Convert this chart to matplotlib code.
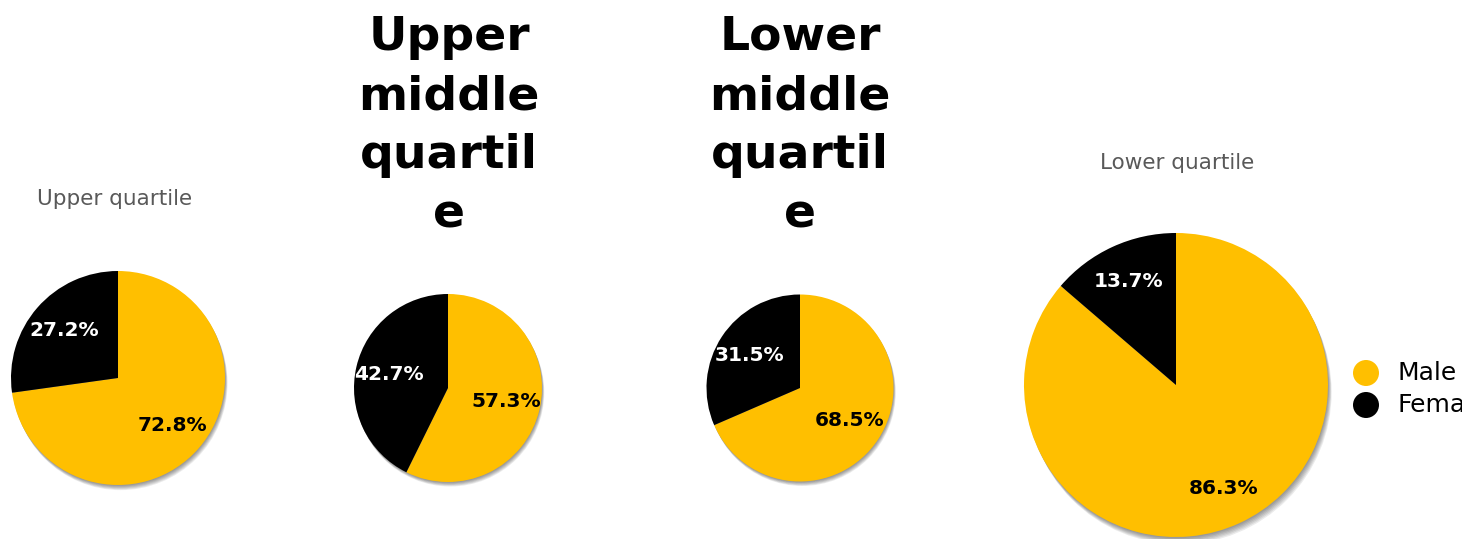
import matplotlib
matplotlib.use("Agg")
import matplotlib.pyplot as plt
from matplotlib.patches import Circle

W, H = 1462, 539
DPI = 100

categories = ["Male", "Female"]
titles = ["Upper quartile", "Upper\nmiddle\nquartil\ne", "Lower\nmiddle\nquartil\ne", "Lower quartile"]
male_pct = [72.8, 57.3, 68.5, 86.3]
female_pct = [27.2, 42.7, 31.5, 13.7]
colors = ["#FFBF00", "#000000"]

# layout in pixels: (center x, center y, radius, pctdistance)
pies = [(118, 378, 107, 0.67), (448, 388, 94, 0.64), (800, 388, 93.5, 0.64), (1176, 385, 152, 0.75)]
title_pos = [(115, 199, "small"), (449, 126, "big"), (800, 126, "big"), (1177, 163, "small")]

fig = plt.figure(figsize=(W / DPI, H / DPI), dpi=DPI)
fig.patch.set_facecolor("white")

for i, (cx, cy, r, pd) in enumerate(pies):
    ax = fig.add_axes([(cx - r) / W, 1 - (cy + r) / H, 2 * r / W, 2 * r / H])
    ax.set_xlim(-1, 1)
    ax.set_ylim(-1, 1)
    ax.set_aspect("equal")
    ax.axis("off")
    # soft shadow
    for k in range(1, 7):
        c = Circle((0.004 * k, -0.008 * k), 1.0, color="black", alpha=0.08, lw=0, clip_on=False, zorder=0)
        ax.add_patch(c)
    wedges, texts, autotexts = ax.pie(
        [male_pct[i], female_pct[i]], colors=colors, startangle=90, counterclock=False,
        autopct="%.1f%%", pctdistance=pd, radius=1.0,
        wedgeprops=dict(linewidth=0), textprops=dict(fontsize=14.5, fontweight="bold", family="DejaVu Sans"))
    for w in wedges:
        w.set_zorder(2)
        w.set_clip_on(False)
    autotexts[0].set_color("black")
    autotexts[1].set_color("white")
    for t in autotexts:
        t.set_zorder(3)
    ax.set_xlim(-1, 1)
    ax.set_ylim(-1, 1)

for (tx, ty, kind), t in zip(title_pos, titles):
    if kind == "small":
        fig.text(tx / W, 1 - ty / H, t, ha="center", va="center", fontsize=15.5, color="#595959")
    else:
        fig.text(tx / W, 1 - ty / H, t, ha="center", va="center", fontsize=34, fontweight="bold",
                 color="black", linespacing=1.40)

# legend
leg_x, leg_y0, leg_dy = 1366, 373, 32
lax = fig.add_axes([0, 0, 1, 1])
lax.set_xlim(0, W)
lax.set_ylim(H, 0)
lax.axis("off")
for j, (lab, col) in enumerate(zip(categories, colors)):
    y = leg_y0 + j * leg_dy
    lax.text(1397, y, lab, ha="left", va="center", fontsize=18, color="black")
lax.scatter([leg_x] * 2, [leg_y0, leg_y0 + leg_dy], s=(26 * 72 / DPI) ** 2,
            c=colors, marker="o", linewidths=0)

fig.savefig("out.png", dpi=DPI, facecolor="white")
